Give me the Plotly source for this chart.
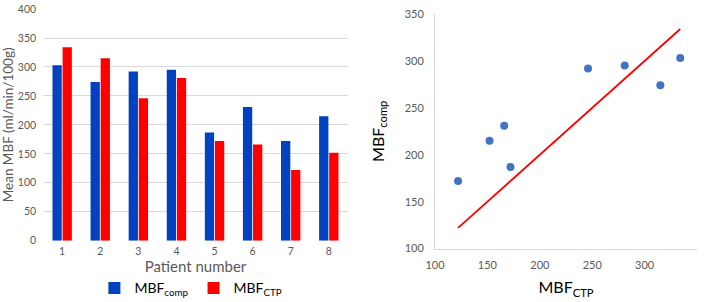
import plotly.graph_objects as go

patients = ["1", "2", "3", "4", "5", "6", "7", "8"]
mbf_comp = [303, 274, 292, 295, 187, 231, 172, 215]
mbf_ctp = [334, 315, 246, 281, 172, 166, 122, 152]

bar_y_ticks = [0, 50, 100, 150, 200, 250, 300, 350, 400]
sc_ticks = [100, 150, 200, 250, 300, 350]

BLUE = "#0042C0"
RED = "#FF0000"
DOT = "#4472C4"
GRID = "#D9D9D9"
TICKC = "#595959"
FONT = "Lato, Open Sans, sans-serif"

fig = go.Figure()
fig.add_trace(go.Bar(x=patients, y=mbf_comp, name="MBF<sub>comp</sub>",
                     marker=dict(color=BLUE, line=dict(width=0)),
                     xaxis="x", yaxis="y"))
fig.add_trace(go.Bar(x=patients, y=mbf_ctp, name="MBF<sub>CTP</sub>",
                     marker=dict(color=RED, line=dict(width=0)),
                     xaxis="x", yaxis="y"))

fig.add_trace(go.Scatter(x=mbf_ctp, y=mbf_comp, mode="markers",
                         marker=dict(color=DOT, size=8),
                         showlegend=False, xaxis="x2", yaxis="y2"))
lo, hi = min(mbf_ctp), max(mbf_ctp)
fig.add_trace(go.Scatter(x=[lo, hi], y=[lo, hi], mode="lines",
                         line=dict(color=RED, width=1.8),
                         showlegend=False, xaxis="x2", yaxis="y2"))

fig.update_layout(
    width=707, height=302,
    margin=dict(l=0, r=0, t=0, b=0, autoexpand=False),
    paper_bgcolor="white", plot_bgcolor="white",
    font=dict(family=FONT, color=TICKC),
    barmode="group", bargap=0.47, bargroupgap=0.08,
    showlegend=True,
    legend=dict(orientation="h", x=0.27, xanchor="center", y=-0.008, yanchor="bottom",
                font=dict(size=14, color="#000000"), itemwidth=30,
                traceorder="normal"),
    xaxis=dict(domain=[0.061, 0.492], showgrid=False, showline=False, ticks="",
               tickfont=dict(size=10.5, color=TICKC), ticklabelstandoff=3,
               title=dict(text="Patient number", font=dict(size=15, color=TICKC), standoff=0)),
    yaxis=dict(domain=[0.203, 0.970], range=[0, 400], tickvals=bar_y_ticks,
               showgrid=True, gridcolor=GRID, gridwidth=1, zeroline=False,
               showline=False, ticks="", tickfont=dict(size=10.5, color=TICKC),
               ticklabelstandoff=6,
               title=dict(text="Mean MBF (ml/min/100g)", font=dict(size=13.5, color=TICKC), standoff=6)),
    xaxis2=dict(domain=[0.6153, 0.9859], range=[100, 350], tickvals=sc_ticks,
                showgrid=False, zeroline=False, showline=True, linecolor=GRID, linewidth=1,
                ticks="", tickfont=dict(size=11, color=TICKC), anchor="y2",
                ticklabelstandoff=6,
                title=dict(text="MBF<sub>CTP</sub>", font=dict(size=16, color="#000000"), standoff=12)),
    yaxis2=dict(domain=[0.177, 0.9536], range=[100, 350], tickvals=sc_ticks,
                showgrid=False, zeroline=False, showline=True, linecolor=GRID, linewidth=1,
                ticks="", tickfont=dict(size=11, color=TICKC), anchor="x2",
                ticklabelstandoff=8,
                title=dict(text="MBF<sub>comp</sub>", font=dict(size=16, color="#000000"), standoff=16)),
)

fig.write_html("out.html", config={"displayModeBar": False},
               post_script="document.body.style.margin='0';document.body.style.overflow='hidden';")
